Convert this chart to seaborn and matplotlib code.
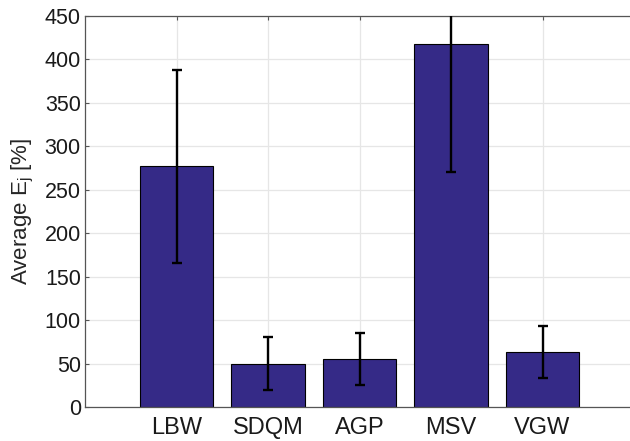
import matplotlib
matplotlib.use("Agg")
import matplotlib.pyplot as plt
import seaborn as sns
import pandas as pd

methods = ["LBW", "SDQM", "AGP", "MSV", "VGW"]
mean_error = [277, 50, 55, 418, 63]
std_error = [111, 30, 30, 147, 30]
y_ticks = [0, 50, 100, 150, 200, 250, 300, 350, 400, 450]

sns.set_theme(style="white")
plt.rcParams["font.family"] = ["Liberation Sans", "DejaVu Sans"]

df = pd.DataFrame({"method": methods, "mean": mean_error, "std": std_error})

W, H = 630, 441
fig = plt.figure(figsize=(W / 100, H / 100), dpi=100)
ax = fig.add_axes([85 / W, 1 - 407 / H, 549 / W, 391 / H])

bar_color = "#352a87"
sns.barplot(data=df, x="method", y="mean", color=bar_color, saturation=1,
            width=0.8, edgecolor="black", linewidth=0.8, errorbar=None, ax=ax,
            zorder=2)
ax.errorbar(range(len(methods)), df["mean"], yerr=df["std"], fmt="none",
            ecolor="black", elinewidth=1.7, capsize=3.5, capthick=1.7, zorder=3)

ax.set_xlim(-1, 5)
ax.set_ylim(0, 450)
ax.set_yticks(y_ticks)
ax.set_xlabel("")
ax.set_ylabel("Average E$_\\mathregular{j}$ [%]", fontsize=16, color="#262626",
              labelpad=6)

ax.grid(True, color="#e6e6e6", linewidth=0.9)
ax.set_axisbelow(True)
for s in ax.spines.values():
    s.set_visible(True)
    s.set_color("#555555")
    s.set_linewidth(0.9)

ax.tick_params(axis="both", direction="in", length=3, width=0.8,
               color="#555555", labelcolor="#1a1a1a",
               top=True, right=True, bottom=True, left=True)
ax.tick_params(axis="y", pad=3, labelsize=15.5)
ax.tick_params(axis="x", pad=7, labelsize=17)

fig.savefig("out.png", dpi=100)
